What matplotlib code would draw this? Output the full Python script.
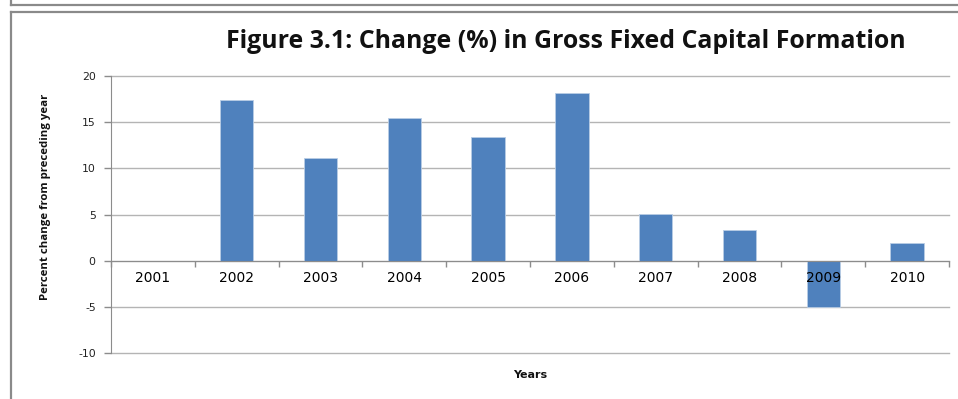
import matplotlib
matplotlib.use("Agg")
import matplotlib.pyplot as plt
from matplotlib.lines import Line2D
import numpy as np

years = ["2001", "2002", "2003", "2004", "2005", "2006", "2007", "2008", "2009", "2010"]
change_pct = [0.0, 17.4, 11.1, 15.5, 13.4, 18.2, 5.1, 3.3, -5.0, 1.9]
y_ticks = [-10, -5, 0, 5, 10, 15, 20]

W, H = 958, 399
fig = plt.figure(figsize=(W / 100, H / 100), dpi=100)
fig.patch.set_facecolor("white")

ax = fig.add_axes([111 / W, 1 - 353 / H, (949 - 111) / W, (353 - 76) / H])

x = np.arange(len(years))
ax.bar(x, change_pct, width=0.4, color="#4F81BD", edgecolor="#B9CDE5",
       linewidth=0.6, zorder=2)

ax.set_xlim(-0.5, len(years) - 0.5)
ax.set_ylim(-10, 20)
ax.set_yticks(y_ticks)
ax.set_yticklabels([str(v) for v in y_ticks], fontsize=7.8, color="#222222",
                   family="DejaVu Sans")
ax.grid(axis="y", color="#B4B4B4", linewidth=1.0)
for gl in ax.get_ygridlines():
    gl.set_clip_on(False)

ax.set_xticks(x)
ax.set_xticklabels(years, fontsize=7.5, color="#222222", family="DejaVu Sans")
ax.set_xticks(np.arange(-0.5, len(years)), minor=True)
ax.tick_params(axis="x", which="major", length=0, pad=7.5)
ax.tick_params(axis="x", which="minor", length=4, color="#8C8C8C", width=1)
ax.tick_params(axis="y", length=5, color="#8C8C8C", width=1, pad=6)

ax.spines["top"].set_visible(False)
ax.spines["right"].set_visible(False)
ax.spines["bottom"].set_position(("data", 0))
ax.spines["bottom"].set_color("#8C8C8C")
ax.spines["left"].set_color("#8C8C8C")
# horizontal grid sits under the bars, the category axis and its labels above
ax.yaxis.set_zorder(0.5)
ax.xaxis.set_zorder(3)
ax.spines["bottom"].set_zorder(3)

fig.text(566 / W, 1 - 42 / H, "Figure 3.1: Change (%) in Gross Fixed Capital Formation",
         ha="center", va="center", fontsize=17.9, fontweight="bold",
         family="Open Sans", color="#111111")
fig.text(46 / W, 1 - 197 / H, "Percent change from preceding year",
         ha="center", va="center", rotation=90, fontsize=8.2, fontweight="bold",
         family="Open Sans", color="#111111")
fig.text(530 / W, 1 - 375 / H, "Years", ha="center", va="center",
         fontsize=8, fontweight="bold", family="DejaVu Sans", color="#111111")

# surrounding frame lines
frame = "#8A8A8A"
fig.add_artist(Line2D([11 / W, 11 / W], [1.0, 1 - 5 / H], color=frame, lw=1.6))
fig.add_artist(Line2D([11 / W, 1.0], [1 - 5 / H, 1 - 5 / H], color=frame, lw=1.6))
fig.add_artist(Line2D([11 / W, 1.0], [1 - 12 / H, 1 - 12 / H], color=frame, lw=1.6))
fig.add_artist(Line2D([11 / W, 11 / W], [1 - 12 / H, 0.0], color=frame, lw=1.6))

fig.savefig("out.png", dpi=100, facecolor="white")
